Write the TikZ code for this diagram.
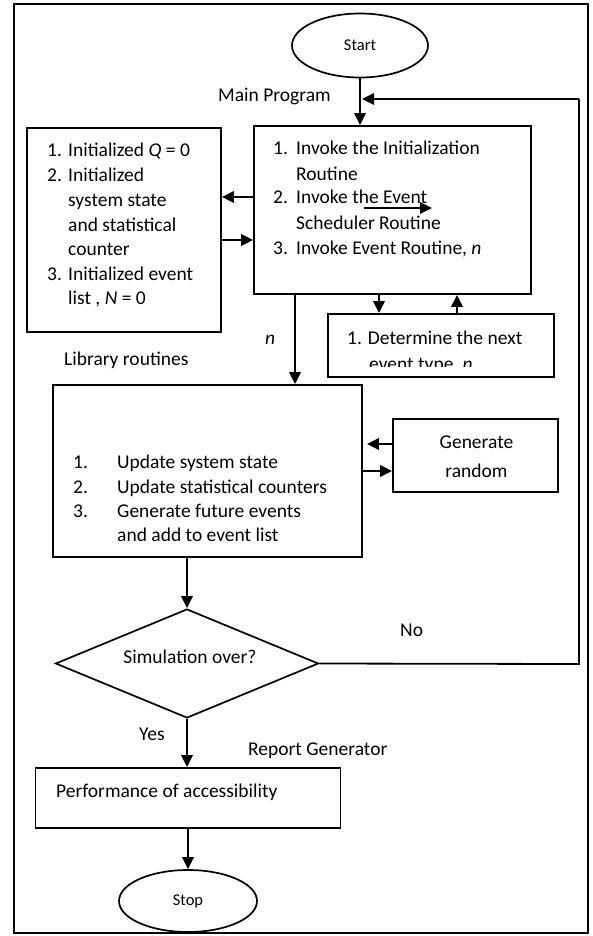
\documentclass[tikz,border=0pt]{standalone}
\usepackage{fontspec}
\setmainfont{Carlito}
\usetikzlibrary{shapes.geometric,arrows.meta}
\tikzset{
  box/.style={draw,line width=1.9pt,rectangle,inner sep=0pt},
  term/.style={draw,line width=1.7pt,ellipse,inner sep=0pt,font=\fontsize{16.5}{20}\selectfont},
  decision/.style={draw,line width=1.7pt,diamond,inner sep=0pt},
  arr/.style={line width=1.8pt,-{Triangle[length=12pt,width=11.5pt]}},
  ln/.style={line width=1.8pt},
  txt/.style={anchor=base west,inner sep=0pt,font=\fontsize{19.5}{24.5}\selectfont},
  ctxt/.style={anchor=base,inner sep=0pt,font=\fontsize{19.5}{24.5}\selectfont}
}
\begin{document}
\begin{tikzpicture}[x=1pt,y=-1pt]
\useasboundingbox (0,0) rectangle (592,936);
% outer frame
\draw[ln] (14,4) rectangle (588,933);

% main shapes
\node[term,minimum width=136pt,minimum height=64pt] (start) at (360,45.5) {Start};
\node[box,minimum width=277pt,minimum height=168pt] (main) at (392.5,210) {};
\node[box,minimum width=194pt,minimum height=204pt] (lbox) at (124,230) {};
\node[box,minimum width=226pt,minimum height=63pt] (det) at (441,345.5) {};
\node[box,minimum width=309pt,minimum height=172pt] (upd) at (207.5,471) {};
\node[box,minimum width=165pt,minimum height=73pt] (gen) at (475.5,455.5) {};
\node[decision,minimum width=263pt,minimum height=109pt] (dia) at (187,663.5) {};
\node[box,minimum width=305pt,minimum height=60pt] (perf) at (188,798) {};
\node[term,minimum width=138pt,minimum height=62pt] (stop) at (188,901) {Stop};

% labels
\node[txt] (lmain) at (218,102) {Main Program};
\node[txt] (llib) at (64,365) {Library routines};
\node[txt] (ln1) at (265,344) {\textit{n}};
\node[txt] (lno) at (400,636) {No};
\node[txt] (lyes) at (139,740) {Yes};
\node[txt] (lrep) at (248,755) {Report Generator};

% main box text
\node[txt] (m1n) at (273,155) {1.};
\node[txt] (m1) at (296,155) {Invoke the Initialization};
\node[txt] (m1b) at (296,180) {Routine};
\node[txt] (m2n) at (273,204) {2.};
\node[txt] (m2) at (296,204) {Invoke the Event};
\node[txt] (m2b) at (296,229) {Scheduler Routine};
\node[txt] (m3n) at (273,254) {3.};
\node[txt] (m3) at (296,254) {Invoke Event Routine, \textit{n}};

% left box text
\node[txt] (l1n) at (47,157) {1.};
\node[txt] (l1) at (68,157) {Initialized \textit{Q} = 0};
\node[txt] (l2n) at (47,182) {2.};
\node[txt] (l2) at (68,182) {Initialized};
\node[txt] (l2b) at (68,206) {system state};
\node[txt] (l2c) at (68,231) {and statistical};
\node[txt] (l2d) at (68,255) {counter};
\node[txt] (l3n) at (47,280) {3.};
\node[txt] (l3) at (68,280) {Initialized event};
\node[txt] (l3b) at (68,304) {list , \textit{N} = 0};

% determine box text
\node[txt] (d1) at (347,344) {1. Determine the next};
\begin{scope}
\clip (328,314) rectangle (554,366);
\node[txt] (d2) at (369,370.5) {event type, \textit{n}};
\end{scope}

% update box text
\node[txt] (u1n) at (73,468) {1.};
\node[txt] (u1) at (117,468) {Update system state};
\node[txt] (u2n) at (73,493) {2.};
\node[txt] (u2) at (117,493) {Update statistical counters};
\node[txt] (u3n) at (73,517) {3.};
\node[txt] (u3) at (117,517) {Generate future events};
\node[txt] (u3b) at (117,541) {and add to event list};

% generate random text
\node[ctxt] (g1) at (476.5,448) {Generate};
\node[ctxt] (g2) at (476.5,477) {random};

% diamond text
\node[ctxt] (dt) at (190,663) {Simulation over?};

% performance text
\node[txt] (pt) at (56,797) {Performance of accessibility};

% connectors
\draw[arr] (start.south) -- (main.north -| start.south);
\coordinate (fbtip) at (362,99);
\coordinate (fbc1) at (579,664);
\coordinate (fbc2) at (579,99);
\draw[ln] (dia.east) -- (fbc1) -- (fbc2);
\draw[arr] (fbc2) -- (fbtip);

\draw[arr] (main.west |- 0,197) -- (lbox.east |- 0,197);
\draw[arr] (lbox.east |- 0,240) -- (main.west |- 0,240);

\coordinate (sa) at (364,208);
\coordinate (sb) at (432,208);
\draw[arr] (sa) -- (sb);

\draw[arr] (main.south -| 379,0) -- (det.north -| 379,0);
\draw[arr] (det.north -| 457,0) -- (main.south -| 457,0);

\draw[arr] (main.south -| 295,0) -- (upd.north -| 295,0);

\draw[arr] (gen.west |- 0,444) -- ([xshift=4pt]upd.east |- 0,444);
\draw[arr] (upd.east |- 0,471) -- (gen.west |- 0,471);

\draw[arr] (upd.south -| dia.north) -- (dia.north);
\draw[arr] (dia.south) -- (perf.north -| dia.south);
\draw[arr] (perf.south -| stop.north) -- (stop.north);
\end{tikzpicture}
\end{document}
